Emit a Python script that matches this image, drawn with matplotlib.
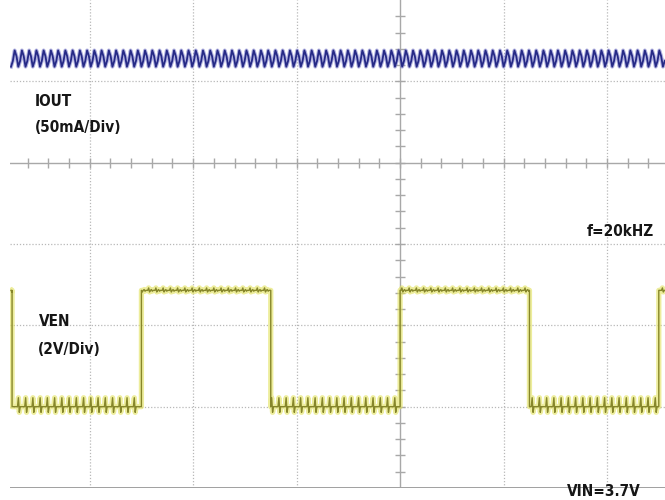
import numpy as np
import matplotlib.pyplot as plt
from matplotlib import font_manager

# scope screen, in divisions (20us/div horizontal)
x_left, x_right = -3.77, 2.56
y_bottom, y_top = -4.0, 2.0

# IOUT channel (50mA/div): offset level and one ripple cycle (div)
iout_level = 1.28
ripple_period = 0.07
iout_cycle = [-0.10, -0.03, 0.10, 0.03]

# VEN channel (2V/div): edge times (div), first edge is falling
ven_edges = [-3.75, -2.5, -1.25, 0.0, 1.25, 2.5]
ven_high = -1.57
ven_low = -3.0
# switching spikes riding on each level, one per ripple cycle
ven_low_spike = [0.0, 0.11, -0.07, 0.0, 0.0, 0.0, 0.0, 0.0]
ven_high_spike = [0.0, 0.03, -0.02, 0.0, 0.01, -0.01, 0.0, 0.0]

# pick a narrow face for the labels if one is installed
label_props = font_manager.FontProperties(family=["Roboto", "DejaVu Sans"],
                                          weight="bold", size=10)
for fam in ["Liberation Sans Narrow", "DejaVu Sans"]:
    fp = font_manager.FontProperties(family=fam, stretch="condensed", weight="bold")
    try:
        path = font_manager.findfont(fp, fallback_to_default=False)
    except ValueError:
        continue
    if "Narrow" in path or "Condensed" in path:
        label_props = font_manager.FontProperties(fname=path, size=11)
        break

fig = plt.figure(figsize=(6.65, 5), dpi=100)
ax = fig.add_axes([10 / 665, 12 / 500, 655 / 665, 488 / 500])
ax.set_xlim(x_left, x_right)
ax.set_ylim(y_bottom, y_top)
ax.axis("off")

# graticule
grid_col = "#b8b8b8"
for gx in range(-3, 3):
    if gx != 0:
        ax.axvline(gx, color=grid_col, lw=0.9, ls=(0, (1, 1.5)), zorder=1)
for gy in range(-3, 2):
    if gy != 0:
        ax.axhline(gy, color=grid_col, lw=0.9, ls=(0, (1, 1.5)), zorder=1)
ax.axvline(0, color="#a8a8a8", lw=1.0, zorder=1)
ax.axhline(0, color="#a8a8a8", lw=1.0, zorder=1)
ax.axhline(y_bottom + 0.004, color="#a0a0a0", lw=1.4, zorder=1)

minor_x = np.arange(-3.6, 2.6, 0.2)
minor_y = np.arange(-3.8, 2.0, 0.2)
ax.vlines(minor_x, -0.06, 0.06, color="#a8a8a8", lw=1.0, zorder=1)
ax.hlines(minor_y, -0.045, 0.045, color="#a8a8a8", lw=1.0, zorder=1)

# IOUT trace
n_step = ripple_period / len(iout_cycle)
t_i = np.arange(x_left + 0.01, x_right, n_step)
v_i = iout_level + np.resize(iout_cycle, len(t_i))
ax.plot(t_i, v_i, color="#6a6ac4", lw=2.8, alpha=0.5, zorder=3)
ax.plot(t_i, v_i, color="#262a86", lw=1.3, zorder=4)

# VEN trace, built segment by segment between edges
s_step = ripple_period / len(ven_low_spike)
bounds = [x_left + 0.01] + ven_edges + [x_right]
t_v, v_v = [], []
for k in range(len(bounds) - 1):
    a, b = bounds[k], bounds[k + 1]
    high = (k % 2 == 0)
    level = ven_high if high else ven_low
    spikes = ven_high_spike if high else ven_low_spike
    seg_t = np.arange(a, b, s_step)
    phase = np.round((seg_t - x_left) / s_step).astype(int) % len(spikes)
    seg_v = level + np.array(spikes)[phase]
    seg_t = np.append(seg_t, b)
    seg_v = np.append(seg_v, level)
    seg_v[0] = level
    t_v.extend(seg_t)
    v_v.extend(seg_v)
ax.plot(t_v, v_v, color="#e2e25a", lw=3.8, alpha=0.6, zorder=3)
ax.plot(t_v, v_v, color="#86862a", lw=1.0, zorder=4)

# channel labels
txt = dict(color="#161616", va="center", transform=fig.transFigure, zorder=5,
           fontproperties=label_props)
fig.text(35 / 665, 1 - 101 / 500, "IOUT", **txt)
fig.text(35 / 665, 1 - 128 / 500, "(50mA/Div)", **txt)
fig.text(39 / 665, 1 - 322 / 500, "VEN", **txt)
fig.text(38 / 665, 1 - 350 / 500, "(2V/Div)", **txt)
fig.text(654 / 665, 1 - 231 / 500, "f=20kHZ", ha="right", **txt)
fig.text(567 / 665, 1 - 492 / 500, "VIN=3.7V", **txt)

fig.savefig("out.png", dpi=100)
